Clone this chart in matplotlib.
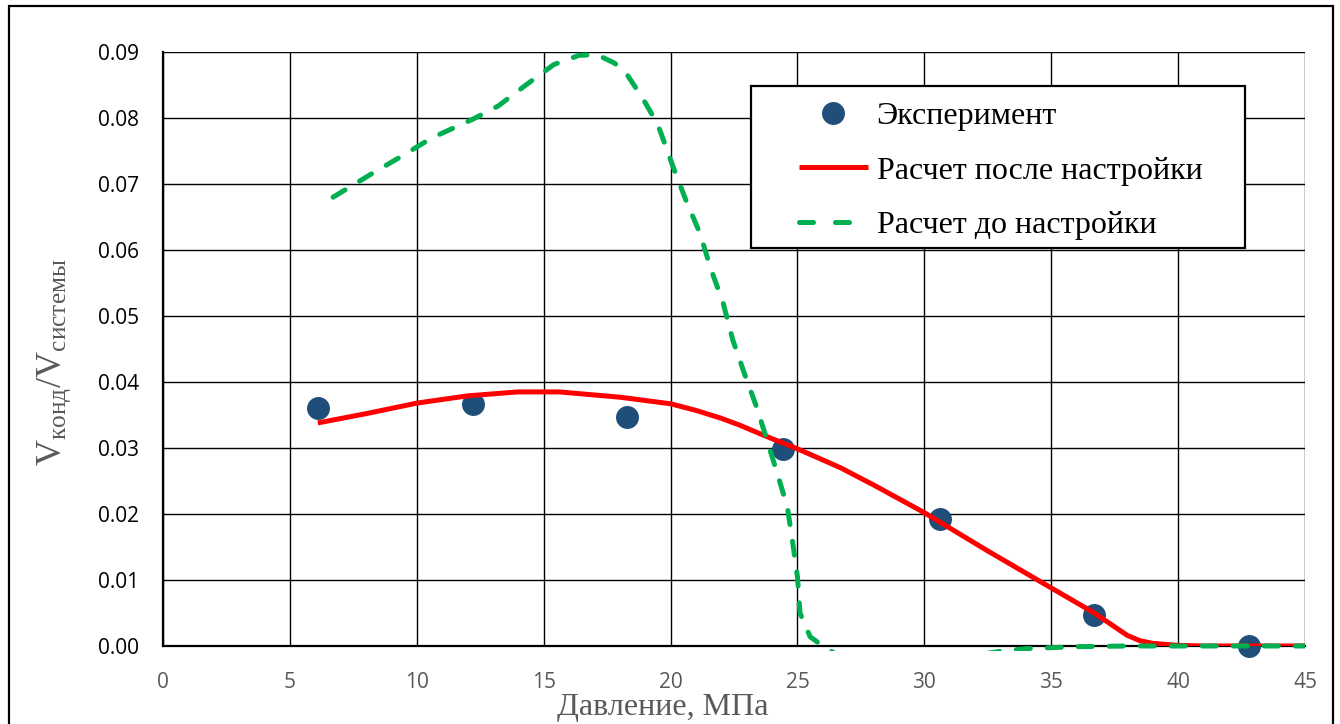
import numpy as np
import matplotlib
matplotlib.use('Agg')
import matplotlib.pyplot as plt
from matplotlib.patches import Rectangle

plt.rcParams['mathtext.fontset'] = 'custom'
plt.rcParams['mathtext.rm'] = 'Liberation Serif'
plt.rcParams['mathtext.it'] = 'Liberation Serif:italic'

# Data
exp_x = [6.1, 12.2, 18.3, 24.45, 30.6, 36.7, 42.8]
exp_y = [0.0361, 0.0367, 0.0347, 0.0298, 0.0192, 0.0047, 0.0]

fit_x = [6.1, 8, 10, 12, 14, 15.6, 18, 20, 21, 22, 22.7, 23.5, 24.2, 24.8, 25.7,
         26.7, 28, 30, 32.5, 35, 36.7, 37.5, 38, 38.5, 39, 40, 41, 45]
fit_y = [0.0338, 0.0352, 0.0368, 0.0379, 0.0385, 0.0385, 0.0377, 0.0367, 0.0357,
         0.0345, 0.0335, 0.0322, 0.0311, 0.0302, 0.0287, 0.0270, 0.0244, 0.0202,
         0.0144, 0.0088, 0.0050, 0.0029, 0.0016, 0.0008, 0.0004, 0.0001, 0.0, 0.0]

raw_x = [6.7, 8.2, 9.4, 10.6, 12.2, 13.2, 14.3, 15.4, 16.4, 17.1, 17.8, 18.3, 18.9,
         19.5, 20.1, 20.6, 21.15, 21.6, 22.07, 22.45, 22.9, 23.4, 23.8, 24.2, 24.6,
         24.8, 25.0, 25.1, 25.5, 26.0, 26.5, 28, 30, 32, 33, 34, 36, 38, 45]
raw_y = [0.0680, 0.0715, 0.0742, 0.0770, 0.0798, 0.0818, 0.0850, 0.0881, 0.0895,
         0.0896, 0.0883, 0.0865, 0.0830, 0.0790, 0.0726, 0.0676, 0.0626, 0.0570,
         0.0520, 0.0464, 0.0414, 0.0361, 0.0312, 0.0262, 0.0211, 0.0160, 0.0105,
         0.0050, 0.0014, 0.0, -0.0012, -0.0016, -0.0016, -0.0014, -0.0008,
         -0.0004, -0.0001, 0.0, 0.0]

x_ticks = [0, 5, 10, 15, 20, 25, 30, 35, 40, 45]
y_ticks = [0.00, 0.01, 0.02, 0.03, 0.04, 0.05, 0.06, 0.07, 0.08, 0.09]

W, H = 1340, 724
fig = plt.figure(figsize=(13.4, 7.24), dpi=100)
ax = fig.add_axes([163 / W, 1 - 646 / H, (1305 - 163) / W, (646 - 52) / H])

# outer chart border
fig.patches.append(Rectangle((9 / W, -0.1), (1333 - 9) / W, 1.1 - 6 / H,
                             transform=fig.transFigure, fill=False,
                             edgecolor='black', linewidth=1.6, zorder=10))

ax.grid(True, color='black', linewidth=1.0, zorder=0)
ax.set_axisbelow(True)

ax.plot(exp_x, exp_y, 'o', color='#1f4e79', markersize=15.5, zorder=3,
        clip_on=False, label='Эксперимент')
ax.plot(fit_x, fit_y, '-', color='#ff0000', linewidth=3.6, zorder=4,
        solid_capstyle='butt', label='Расчет после настройки')
g, = ax.plot(raw_x, raw_y, color='#00b050', linewidth=3.6, zorder=5,
             dashes=(2.8, 3.4), dash_capstyle='round', label='Расчет до настройки')
clip = Rectangle((0, -0.009), 1, 1.02, transform=ax.transAxes, visible=False)
ax.add_patch(clip)
g.set_clip_path(clip)

ax.set_xlim(0, 45)
ax.set_ylim(0, 0.09)
ax.set_xticks(x_ticks)
ax.set_yticks(y_ticks)
ax.set_yticklabels(['%.2f' % v for v in y_ticks])
ax.tick_params(length=0, labelsize=15)
ax.tick_params(axis='x', pad=19, labelcolor='#595959')
ax.tick_params(axis='y', pad=17, labelcolor='black')
for lbl in ax.get_xticklabels() + ax.get_yticklabels():
    lbl.set_family('Open Sans')

for s in ['top', 'right']:
    ax.spines[s].set_visible(False)
for s in ['left', 'bottom']:
    ax.spines[s].set_linewidth(1.6)
    ax.spines[s].set_color('black')
    ax.spines[s].set_zorder(2.5)

fig.text(663 / W, 1 - 707 / H, 'Давление, МПа', family='Liberation Serif',
         fontsize=23, color='#595959', ha='center', va='center')
fig.text(55 / W, 1 - 362 / H,
         r'$\mathrm{V}_{\mathrm{конд}}/\mathrm{V}_{\mathrm{системы}}$',
         fontsize=26, color='#595959', ha='center', va='center', rotation=90)

# legend box drawn separately, content placed inside
fig.patches.append(Rectangle((751 / W, 1 - 248 / H), (1245 - 751) / W, (248 - 86) / H,
                             transform=fig.transFigure, facecolor='white',
                             edgecolor='black', linewidth=1.6, zorder=19))
handles, labels = ax.get_legend_handles_labels()
leg = fig.legend(handles, labels, loc='upper left', bbox_to_anchor=(799 / W, 1 - 102 / H),
                 bbox_transform=fig.transFigure, borderaxespad=0, borderpad=0,
                 prop={'family': 'Liberation Serif', 'size': 23},
                 frameon=False, handlelength=2.15, handletextpad=0.28,
                 labelspacing=0.78, markerscale=1.0)
leg.set_zorder(20)
leg.get_lines()[2].set_dashes((2.8, 4.4))

fig.savefig('out.png', dpi=100)
